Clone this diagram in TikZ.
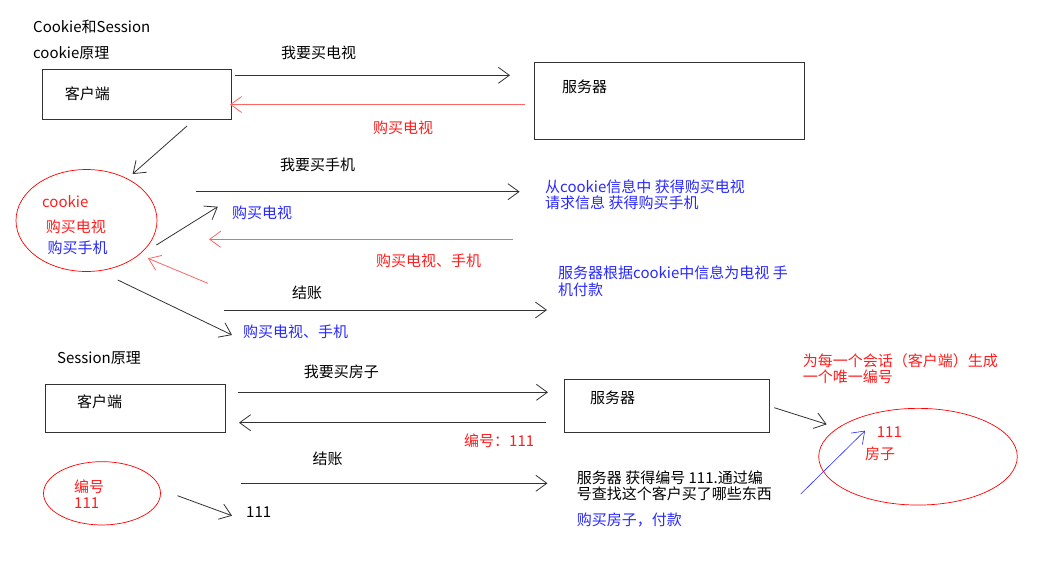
\documentclass[tikz,border=0pt]{standalone}
\usepackage{fontspec}
\setmainfont{Noto Sans CJK SC}
\usetikzlibrary{arrows.meta,shapes.geometric}
\definecolor{notered}{RGB}{255,30,30}
\definecolor{noteblue}{RGB}{40,40,255}
\definecolor{linered}{RGB}{255,100,100}
\definecolor{linegray}{RGB}{50,50,50}
\tikzset{
  txt/.style={anchor=west, inner sep=0pt, font=\fontsize{15}{16.3}\selectfont},
  para/.style={txt, anchor=base west, align=left},
  box/.style={draw=linegray, line width=0.8pt, rectangle, inner sep=0pt},
  oval/.style={draw=red, line width=0.7pt, ellipse, inner sep=0pt},
  msg/.style={draw=linegray, line width=0.8pt, -{Straight Barb[length=11pt,width=16pt]}},
  redmsg/.style={msg, draw=linered},
  bluemsg/.style={msg, draw=noteblue}
}
\begin{document}
\begin{tikzpicture}[x=1pt, y=-1pt]
  \useasboundingbox (0,0) rectangle (1048,560);
  % cookie
  \node[txt] (title) at (33,27) {Cookie和Session};
  \node[txt] (ckhead) at (33,53) {cookie原理};
  \node[box, minimum width=189pt, minimum height=50pt] (cli1) at (136.5,94) {};
  \node[txt] (cli1txt) at (64.7,94) {客户端};
  \node[box, minimum width=270pt, minimum height=77pt] (srv1) at (669,101.3) {};
  \node[txt] (srv1txt) at (562,87) {服务器};
  \coordinate (a1s) at (234.5,75.3);  \coordinate (a1e) at (510,75.3);
  \draw[msg] (a1s) -- (a1e);
  \node[txt] (buytv) at (281,53) {我要买电视};
  \coordinate (r1s) at (525,104.5);  \coordinate (r1e) at (230,104.5);
  \draw[redmsg] (r1s) -- (r1e);
  \node[txt, color=notered] (gottv) at (373,128) {购买电视};
  \coordinate (d1s) at (187,126);  \coordinate (d1e) at (132.6,174);
  \draw[msg] (d1s) -- (d1e);
  \node[oval, minimum width=141pt, minimum height=102pt] (ck) at (86.5,220.5) {};
  \node[txt, color=notered] (cktxt) at (42,201.7) {cookie};
  \node[txt, color=notered] (cktv) at (45.7,227) {购买电视};
  \node[txt, color=noteblue] (ckphone) at (47.5,248) {购买手机};
  \coordinate (a2s) at (196,191.7);  \coordinate (a2e) at (519.6,191.7);
  \draw[msg] (a2s) -- (a2e);
  \node[txt] (buyphone) at (280,165) {我要买手机};
  \coordinate (d2s) at (156.4,245);  \coordinate (d2e) at (217.8,206.7);
  \draw[msg] (d2s) -- (d2e);
  \node[txt, color=noteblue] (sendtv) at (232,213) {购买电视};
  \coordinate (r2s) at (513,239.3);  \coordinate (r2e) at (209,239.3);
  \draw[redmsg] (r2s) -- (r2e);
  \node[txt, color=notered] (gotboth) at (376,261) {购买电视、手机};
  \coordinate (r3s) at (207.8,283.3);  \coordinate (r3e) at (148,258.3);
  \draw[redmsg] (r3s) -- (r3e);
  \coordinate (a3s) at (224,310);  \coordinate (a3e) at (547,310);
  \draw[msg] (a3s) -- (a3e);
  \node[txt] (pay1) at (292,293) {结账};
  \coordinate (d3s) at (117.8,280);  \coordinate (d3e) at (232,335);
  \draw[msg] (d3s) -- (d3e);
  \node[txt, color=noteblue] (sendboth) at (243,331.7) {购买电视、手机};
  \node[para, color=noteblue] (srvnote1) at (545,208.7) {从cookie信息中 获得购买电视\\请求信息 获得购买手机};
  \node[para, color=noteblue] (srvnote2) at (558,295) {服务器根据cookie中信息为电视 手\\机付款};
  % session
  \node[txt] (sshead) at (57,358) {Session原理};
  \node[box, minimum width=180pt, minimum height=48.3pt] (cli2) at (135.7,408.2) {};
  \node[txt] (cli2txt) at (76.8,401.7) {客户端};
  \node[box, minimum width=205pt, minimum height=53pt] (srv2) at (666.8,405.8) {};
  \node[txt] (srv2txt) at (590,397.7) {服务器};
  \coordinate (a4s) at (237.5,392.3);  \coordinate (a4e) at (548,392.3);
  \draw[msg] (a4s) -- (a4e);
  \node[txt] (buyhouse) at (303.6,371.7) {我要买房子};
  \coordinate (a5s) at (545.7,422.7);  \coordinate (a5e) at (239,422.7);
  \draw[msg] (a5s) -- (a5e);
  \node[txt, color=notered] (idback) at (464,441) {编号：111};
  \coordinate (a6s) at (241,483.3);  \coordinate (a6e) at (547.5,483.3);
  \draw[msg] (a6s) -- (a6e);
  \node[txt] (pay2) at (312.5,459) {结账};
  \node[oval, minimum width=117pt, minimum height=63.3pt] (idov) at (102,493.3) {};
  \node[para, color=notered] (idtxt) at (74,508.7) {编号\\111};
  \coordinate (d4s) at (177.5,495.7);  \coordinate (d4e) at (232,515.7);
  \draw[msg] (d4s) -- (d4e);
  \node[txt] (idsend) at (246,511.7) {111};
  \node[para, color=notered] (gennote) at (802.7,382.7) {为每一个会话（客户端）生成\\一个唯一编号};
  \coordinate (d5s) at (774.3,407.7);  \coordinate (d5e) at (826.7,424.3);
  \draw[msg] (d5s) -- (d5e);
  \node[oval, minimum width=198.6pt, minimum height=96.7pt] (sess) at (918,456.7) {};
  \node[txt, color=notered] (sessid) at (876.7,431.7) {111};
  \node[txt, color=notered] (sesshouse) at (865,453.3) {房子};
  \coordinate (b1s) at (800.7,494);  \coordinate (b1e) at (865,430.7);
  \draw[bluemsg, line width=0.6pt] (b1s) -- (b1e);
  \node[para] (lookup) at (576.7,499.3) {服务器 获得编号 111.通过编\\号查找这个客户买了哪些东西};
  \node[txt, color=noteblue] (paid) at (576.7,520) {购买房子，付款};
\end{tikzpicture}
\end{document}
